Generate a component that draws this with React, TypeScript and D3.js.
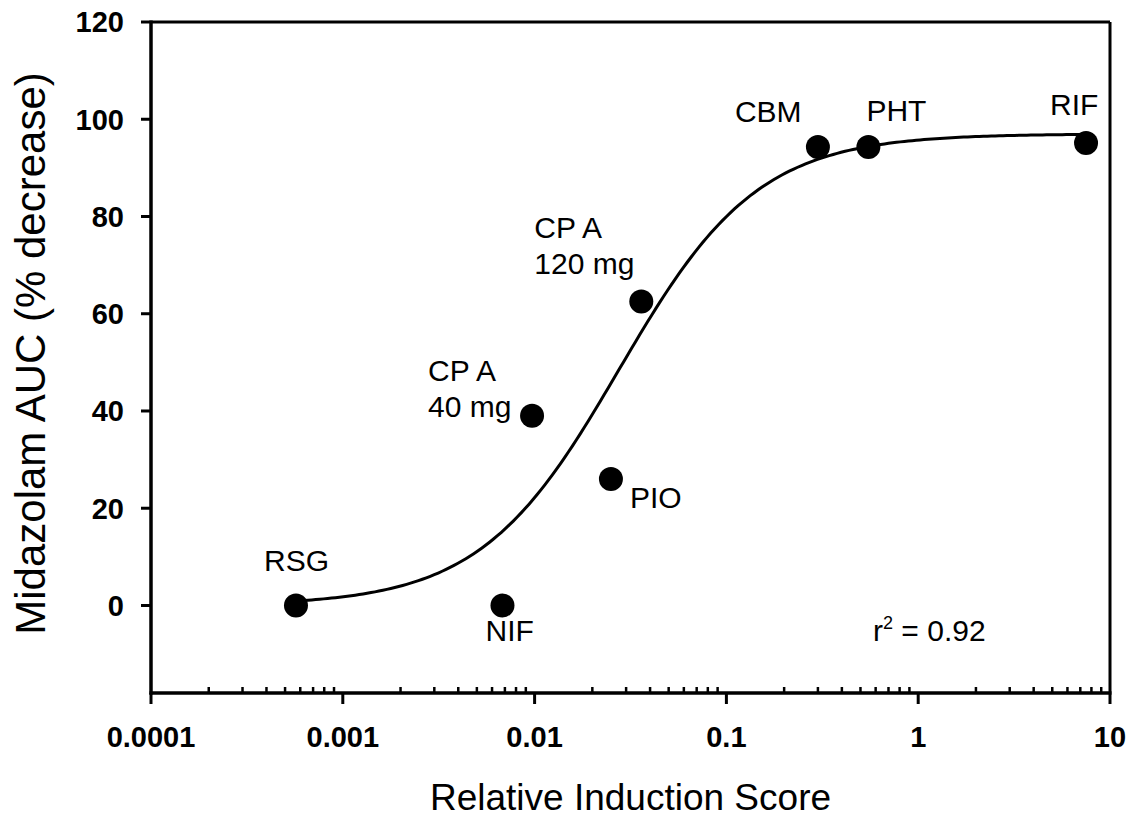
import React from 'react';
import * as d3 from 'd3';

// compounds and their observed values
const compounds = ['RSG', 'NIF', 'CP A 40 mg', 'PIO', 'CP A 120 mg', 'CBM', 'PHT', 'RIF'];
const labelLines = [['RSG'], ['NIF'], ['CP A', '40 mg'], ['PIO'], ['CP A', '120 mg'], ['CBM'], ['PHT'], ['RIF']];
const inductionScore = [0.00057, 0.0068, 0.0097, 0.025, 0.036, 0.30, 0.55, 7.5];
const aucDecrease = [0, 0, 39, 26, 62.5, 94.3, 94.3, 95.1];

// fitted sigmoid (Hill) parameters
const fitTop = 97;
const fitBottom = 0;
const fitLogEC50 = -1.56;
const fitHill = 1.2;
const rSquared = '0.92';

const yTicks = [0, 20, 40, 60, 80, 100, 120];
const xTicks = [0.0001, 0.001, 0.01, 0.1, 1, 10];
const xTickLabels = ['0.0001', '0.001', '0.01', '0.1', '1', '10'];

// label offsets (px) relative to the dot centre
const labelOffsets = [
  [-32, -34], [-17, 36], [-104, -35], [19, 29], [-107, -64], [-83, -25], [-2, -26], [-36, -28],
];

const W = 1132, H = 819;
const font = '"Liberation Sans", Arial, sans-serif';

export default function App() {
  const x = d3.scaleLog().domain([0.0001, 10]).range([151, 1110]);
  const y = d3.scaleLinear().domain([-18, 120]).range([693, 22]);

  const hill = (v: number) =>
    fitBottom + (fitTop - fitBottom) / (1 + Math.pow(10, (fitLogEC50 - Math.log10(v)) * fitHill));

  const lo = Math.log10(d3.min(inductionScore)!);
  const hi = Math.log10(d3.max(inductionScore)!);
  const curvePts = d3.range(0, 201).map(i => {
    const v = Math.pow(10, lo + (hi - lo) * i / 200);
    return [x(v), y(hill(v))] as [number, number];
  });
  const line = d3.line();

  const minor: number[] = [];
  for (let k = -4; k < 1; k++) {
    for (let m = 2; m < 10; m++) minor.push(m * Math.pow(10, k));
  }

  const [x0, x1] = x.range();
  const [yb, yt] = y.range();

  return (
    <svg width={W} height={H} style={{ position: 'absolute', left: 0, top: 0, background: '#fff' }} fontFamily={font}>
      {/* frame */}
      <line x1={x0} x2={x1} y1={yt} y2={yt} stroke="#000" strokeWidth={3} />
      <line x1={x1} x2={x1} y1={yt} y2={yb} stroke="#000" strokeWidth={3} />
      <line x1={x0} x2={x0} y1={yt - 1.5} y2={yb + 1.5} stroke="#000" strokeWidth={3.5} />
      <line x1={x0 - 1.5} x2={x1 + 1.5} y1={yb} y2={yb} stroke="#000" strokeWidth={3.5} />

      {/* y axis */}
      {yTicks.map(t => (
        <g key={'y' + t}>
          <line x1={x0 - 10} x2={x0} y1={y(t)} y2={y(t)} stroke="#000" strokeWidth={3} />
          <text x={124} y={y(t)} dy="0.36em" textAnchor="end" fontSize={29} fontWeight="bold">{t}</text>
        </g>
      ))}

      {/* x axis */}
      {minor.map((t, i) => (
        <line key={'m' + i} x1={x(t)} x2={x(t)} y1={yb} y2={yb - 6} stroke="#000" strokeWidth={2.5} />
      ))}
      {xTicks.map((t, i) => (
        <g key={'x' + i}>
          <line x1={x(t)} x2={x(t)} y1={yb} y2={yb + 11} stroke="#000" strokeWidth={3} />
          <text x={x(t)} y={747} textAnchor="middle" fontSize={29} fontWeight="bold">{xTickLabels[i]}</text>
        </g>
      ))}

      {/* titles */}
      <text x={(x0 + x1) / 2} y={810} textAnchor="middle" fontSize={37}>Relative Induction Score</text>
      <text transform={`translate(45, ${(yt + yb) / 2 - 4}) rotate(-90)`} textAnchor="middle" fontSize={42}>
        Midazolam AUC (% decrease)
      </text>

      {/* fitted curve */}
      <path d={line(curvePts)!} fill="none" stroke="#000" strokeWidth={3} />

      {/* points and labels */}
      {compounds.map((c, i) => {
        const cx = x(inductionScore[i]);
        const cy = y(aucDecrease[i]);
        const [dx, dy] = labelOffsets[i];
        return (
          <g key={c}>
            <circle cx={cx} cy={cy} r={12} fill="#000" />
            <text x={cx + dx} y={cy + dy} fontSize={30}>
              {labelLines[i].map((l, j) => (
                <tspan key={j} x={cx + dx} dy={j === 0 ? 0 : 36}>{l}</tspan>
              ))}
            </text>
          </g>
        );
      })}

      <text x={873} y={641} fontSize={30}>
        r<tspan dy={-12} fontSize={18}>2</tspan><tspan dy={12}> = {rSquared}</tspan>
      </text>
    </svg>
  );
}
